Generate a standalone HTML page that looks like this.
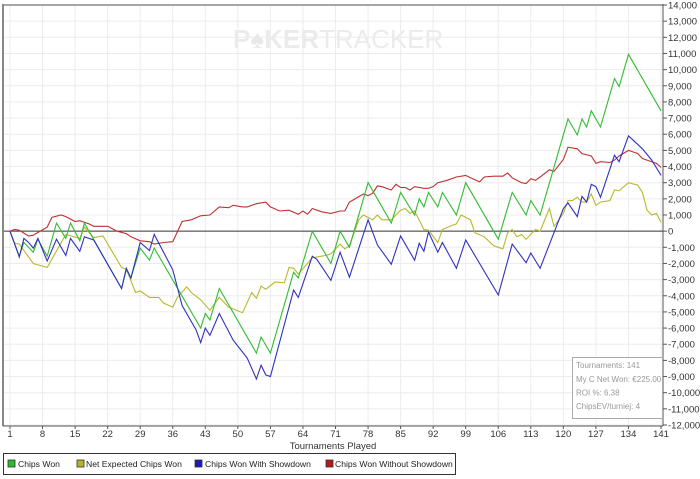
<!DOCTYPE html>
<html><head><meta charset="utf-8"><style>
html,body{margin:0;padding:0;background:#fff;}
svg{display:block;font-family:"Liberation Sans",sans-serif;}
</style></head><body>
<svg id="chart" width="700" height="479" xmlns="http://www.w3.org/2000/svg">
<text x="233" y="48" font-size="26" font-weight="bold" fill="#ebebeb">P<tspan fill="#e8e8e8">♠</tspan>KER<tspan font-weight="normal">TRACKER</tspan></text>
<g id="grid"></g>
<g id="series"></g>
<g id="axes"></g>
<text x="333" y="449" font-size="9.5" fill="#333" text-anchor="middle">Tournaments Played</text>
<g>
<rect x="3.5" y="453.5" width="452" height="21" fill="#fff" stroke="#333"/>
<rect x="8" y="460" width="7" height="7" fill="#2db82d" stroke="#333" stroke-width="0.8"/>
<text x="18" y="467" font-size="8.6" fill="#222">Chips Won</text>
<rect x="77" y="460" width="7" height="7" fill="#b3b32d" stroke="#333" stroke-width="0.8"/>
<text x="86" y="467" font-size="8.6" fill="#222">Net Expected Chips Won</text>
<rect x="195" y="460" width="7" height="7" fill="#1a1ab3" stroke="#333" stroke-width="0.8"/>
<text x="205" y="467" font-size="8.6" fill="#222">Chips Won With Showdown</text>
<rect x="326" y="460" width="7" height="7" fill="#b31a1a" stroke="#333" stroke-width="0.8"/>
<text x="335" y="467" font-size="8.6" fill="#222">Chips Won Without Showdown</text>
</g>
<g>
<rect x="572.5" y="357.5" width="90" height="61" fill="#fff" stroke="#aaa"/>
<text x="576" y="368" font-size="8" fill="#999">Tournaments: 141</text>
<text x="576" y="382" font-size="8" fill="#999">My C Net Won: €225.00</text>
<text x="576" y="395.5" font-size="8" fill="#999">ROI %: 6.38</text>
<text x="576" y="409" font-size="8" fill="#999">ChipsEV/turniej: 4</text>
</g>
</svg>
<script>
const xTicks=[1,8,15,22,29,36,43,50,57,64,71,78,85,92,99,106,113,120,127,134,141];
const yTicks=[14000,13000,12000,11000,10000,9000,8000,7000,6000,5000,4000,3000,2000,1000,0,-1000,-2000,-3000,-4000,-5000,-6000,-7000,-8000,-9000,-10000,-11000,-12000];
const greenN=[1,3,4,6,7,9,11,13,14,16,17,25,26,27,29,31,32,42,43,44,46,54,55,57,62,63,66,70,72,74,78,83,85,88,89,90,91,93,94,97,99,106,109,112,113,115,121,123,124,125,126,128,131,132,134,141];
const greenV=[0,-1550,-700,-1300,-500,-1550,500,-450,500,-600,500,-3550,-2400,-2900,-1050,-1800,-1050,-6000,-5100,-5500,-3550,-7550,-6550,-7550,-2550,-2900,0,-2000,0,-1000,3000,500,2400,1000,2000,1500,2400,1500,2400,1000,3000,-500,2400,1000,1900,1000,6950,5950,6950,6450,7450,6450,9450,8950,10950,7450];
const blueN=[1,3,4,5,6,7,9,11,13,14,16,17,19,25,26,27,29,31,32,36,38,41,42,43,44,46,49,52,54,55,56,57,62,63,66,67,70,72,74,78,80,83,85,88,89,90,91,93,94,97,99,106,109,112,113,115,120,121,123,124,125,126,127,128,131,132,134,137,139,141];
const blueV=[0,-1600,-450,-700,-1050,-450,-1850,-500,-1500,-450,-1250,-350,-550,-3550,-2300,-2900,-700,-1200,-200,-2400,-4600,-6100,-6900,-6000,-6450,-5100,-6750,-7850,-9150,-8300,-8900,-9000,-3650,-4100,-1550,-1750,-3050,-1300,-2850,700,-850,-2050,-300,-1800,-750,-1250,-50,-1300,-700,-2300,-550,-3950,-800,-1950,-1350,-2300,1400,1750,900,2150,1800,2900,2750,2100,4700,4300,5900,5100,4400,3450];
const yellowN=[1,2,3,6,9,13,16,17,19,21,25,26,28,29,31,33,34,36,37,39,40,42,44,46,48,51,53,54,55,56,58,60,61,62,63,66,69,70,72,73,74,76,77,79,80,81,83,85,86,87,88,90,91,93,94,96,97,98,100,101,103,105,106,107,108,109,110,111,112,114,115,117,118,120,121,122,123,124,125,126,127,128,130,131,132,134,136,137,138,139,140,141];
const yellowV=[0,-750,-800,-2000,-2250,-200,-450,250,-400,-300,-2250,-2350,-3800,-3700,-4100,-4100,-4450,-4700,-4100,-3450,-3800,-4250,-4900,-4100,-4700,-5050,-3800,-4150,-3400,-3600,-3150,-3200,-2250,-2300,-2650,-1650,-1500,-1400,-800,-1100,-900,700,1000,700,1000,700,700,1300,1400,1100,1250,100,50,-700,100,350,450,1000,700,-100,-350,-900,-1000,-1100,-100,100,-350,-200,-500,100,0,1400,300,1100,1900,1900,2100,1800,1800,2300,1600,1800,1900,2550,2500,3000,2850,2400,1300,1000,1100,550];
const redN=[1,2,3,5,6,9,10,12,13,15,16,18,19,22,24,26,27,29,31,32,34,36,38,40,42,44,46,48,49,51,52,54,56,57,59,61,63,64,65,66,68,70,72,73,74,77,78,79,80,81,83,84,85,86,87,88,90,91,92,93,95,97,99,100,102,103,105,107,108,109,111,112,113,114,115,117,118,120,121,123,124,126,127,128,130,131,132,134,136,137,138,140,141];
const redV=[0,100,50,-300,-250,250,850,1000,900,600,650,450,300,300,0,-150,-350,-600,-650,-800,-700,-650,600,700,950,1000,1500,1450,1600,1500,1500,1700,1800,1500,1250,1300,1050,1250,1050,1400,1200,1100,1250,1250,1800,2300,2200,2350,2800,2750,2550,2900,2700,2700,2550,2750,2650,2650,2750,3000,3150,3350,3450,3300,3050,3350,3400,3400,3600,3300,3000,2950,3250,3150,3350,3800,3700,4450,5200,5100,4800,4650,4200,4300,4250,4400,4650,5000,4800,4500,4400,4200,3950];

const NS="http://www.w3.org/2000/svg";
const X0=10,X1=661,Y0=5,Y1=425,VMAX=14000,VMIN=-12000;
function xs(n){return X0+(n-1)*(X1-X0)/140;}
function ys(v){return Y0+(VMAX-v)*(Y1-Y0)/(VMAX-VMIN);}
function mk(tag,attrs,parent){const e=document.createElementNS(NS,tag);for(const k in attrs)e.setAttribute(k,attrs[k]);parent.appendChild(e);return e;}
const grid=document.getElementById('grid'),axes=document.getElementById('axes'),ser=document.getElementById('series');
xTicks.forEach(t=>{
  const l=mk('line',{x1:xs(t),x2:xs(t),y1:Y0,y2:426,stroke:'#ececec'},grid);
  
  
  const tk=mk('line',{x1:xs(t),x2:xs(t),y1:426,y2:429,stroke:'#555'},axes);
  
  
  const tx=mk('text',{x:xs(t),y:437,'font-size':9.5,fill:'#333','text-anchor':'middle'},axes);
  tx.textContent=t;
  
  
});
yTicks.forEach(t=>{
  const l=mk('line',{x1:3,x2:663,y1:ys(t),y2:ys(t),stroke:t===0?'#333':'#ececec'},grid);
  
  
  const tk=mk('line',{x1:663,x2:667,y1:ys(t),y2:ys(t),stroke:'#555'},axes);
  
  
  const tx=mk('text',{x:668,y:ys(t)+3.5,'font-size':9.5,fill:'#333'},axes);
  tx.textContent=t.toLocaleString('en-US');
  
  
});
const f1=mk('line',{x1:3,x2:663,y1:5,y2:5,stroke:'#888','stroke-width':1.5},axes);


const f2=mk('line',{x1:3,x2:3,y1:4,y2:426,stroke:'#888','stroke-width':2},axes);


const f3=mk('line',{x1:663,x2:663,y1:4,y2:426,stroke:'#555'},axes);


const f4=mk('line',{x1:3,x2:663,y1:426,y2:426,stroke:'#555'},axes);


function line(N,V,color,name){
  const d=N.map((n,i)=>(i?'L':'M')+xs(n).toFixed(1)+' '+ys(V[i]).toFixed(1)).join(' ');
  const p=mk('path',{d:d,fill:'none',stroke:color,'stroke-width':1.1},ser);
  
  
}
line(redN,redV,'#c03030','line-chips-won-without-showdown');
line(yellowN,yellowV,'#b8b830','line-net-expected-chips-won');
line(greenN,greenV,'#33bb33','line-chips-won');
line(blueN,blueV,'#3030c0','line-chips-won-with-showdown');
</script>
</body></html>
